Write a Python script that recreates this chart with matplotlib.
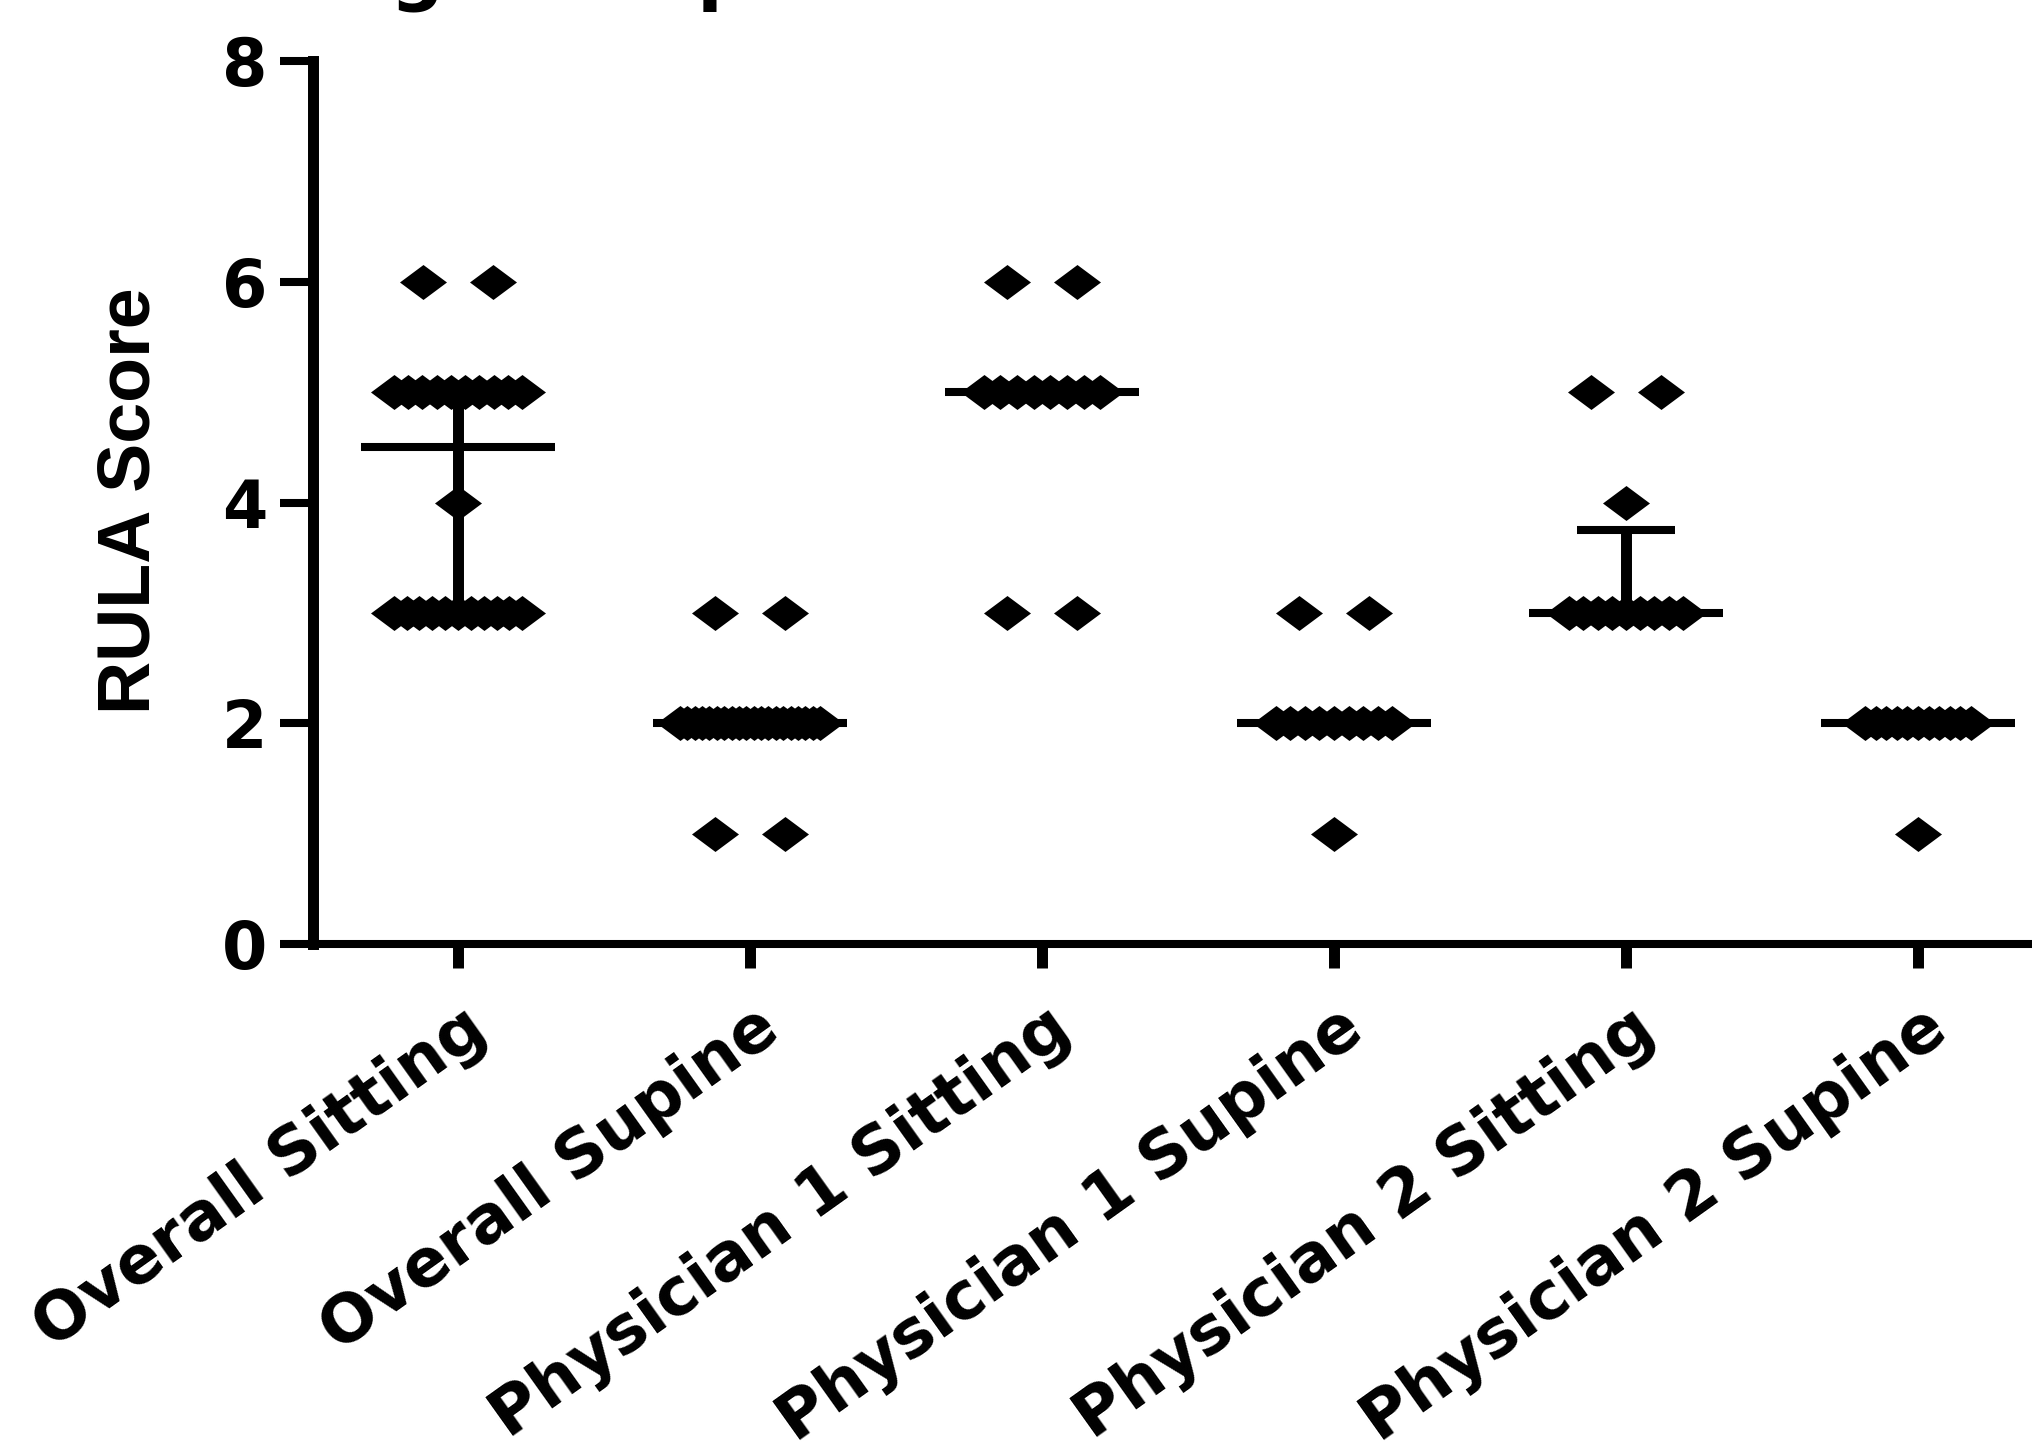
import numpy as np
import matplotlib
matplotlib.use("Agg")
import matplotlib.pyplot as plt
from matplotlib.path import Path
from matplotlib.transforms import ScaledTranslation

# ---------------- data ----------------
categories = ["Overall Sitting", "Overall Supine", "Physician 1 Sitting",
              "Physician 1 Supine", "Physician 2 Sitting", "Physician 2 Supine"]

overall_sitting = [6, 6, 5, 5, 5, 5, 5, 5, 5, 5, 5, 5, 4,
                   3, 3, 3, 3, 3, 3, 3, 3, 3, 3, 3]
overall_supine = [3, 3, 2, 2, 2, 2, 2, 2, 2, 2, 2, 2,
                  2, 2, 2, 2, 2, 2, 2, 2, 2, 2, 1, 1]
physician1_sitting = [6, 6, 5, 5, 5, 5, 5, 5, 5, 5, 3, 3]
physician1_supine = [3, 3, 2, 2, 2, 2, 2, 2, 2, 2, 2, 1]
physician2_sitting = [5, 5, 4, 3, 3, 3, 3, 3, 3, 3, 3, 3]
physician2_supine = [2, 2, 2, 2, 2, 2, 2, 2, 2, 2, 2, 1]

groups = [overall_sitting, overall_supine, physician1_sitting,
          physician1_supine, physician2_sitting, physician2_supine]

y_ticks = [0, 2, 4, 6, 8]
y_label = "RULA Score"
title = "Sitting vs Supine"

# ---------------- style / layout ----------------
W, H, DPI = 2033, 1454, 100
fig = plt.figure(figsize=(W / DPI, H / DPI), dpi=DPI)
fig.patch.set_facecolor("white")

ax_left_px, ax_top_px, ax_bottom_px = 313, 61, 944
ax = fig.add_axes([ax_left_px / W, 1 - ax_bottom_px / H,
                   (W - ax_left_px) / W, (ax_bottom_px - ax_top_px) / H])
ax.set_facecolor("white")

cat_x0_px, cat_dx_px = 458, 292
ax.set_xlim((ax_left_px - cat_x0_px) / cat_dx_px, (W - cat_x0_px) / cat_dx_px)
ax.set_ylim(0, 8)

LW_V = 7.9   # vertical strokes (pt)
LW_H = 5.8   # horizontal strokes (pt)

for s in ["top", "right"]:
    ax.spines[s].set_visible(False)
ax.spines["left"].set_linewidth(LW_V)
ax.spines["bottom"].set_linewidth(LW_H)
ax.spines["left"].set_capstyle("projecting")
ax.spines["bottom"].set_capstyle("butt")

# diamond marker, wider than tall
diamond = Path([(-0.5, 0), (0, 0.372), (0.5, 0), (0, -0.372), (-0.5, 0)],
               [Path.MOVETO, Path.LINETO, Path.LINETO, Path.LINETO, Path.CLOSEPOLY])
ms = 47 * 72 / DPI

pair_off = 0.12            # half spacing for two points in a row
max_spread = [0.44, 0.48, 0.40, 0.40, 0.39, 0.36]
med_half = 0.332
cap_half = 0.168

for gi, vals in enumerate(groups):
    vals = np.asarray(vals, dtype=float)
    xs, ys = [], []
    for v in sorted(set(vals), reverse=True):
        k = int(np.sum(vals == v))
        if k == 1:
            offs = [0.0]
        elif k == 2:
            offs = [-pair_off, pair_off]
        else:
            offs = list(np.linspace(-max_spread[gi] / 2, max_spread[gi] / 2, k))
        xs += [gi + o for o in offs]
        ys += [v] * k
    ax.plot(xs, ys, linestyle="none", marker=diamond, markersize=ms,
            color="black", markeredgewidth=0, zorder=3, clip_on=False)

    q1, med, q3 = np.percentile(vals, [25, 50, 75], method="weibull")
    ax.plot([gi - med_half, gi + med_half], [med, med], color="black",
            lw=LW_H, solid_capstyle="butt", zorder=4)
    if q3 > q1:
        ax.plot([gi, gi], [q1, q3], color="black", lw=LW_V,
                solid_capstyle="butt", zorder=4)
        for q in (q1, q3):
            ax.plot([gi - cap_half, gi + cap_half], [q, q], color="black",
                    lw=LW_H, solid_capstyle="butt", zorder=4)

# ticks
ax.set_yticks(y_ticks)
ax.set_yticklabels([str(t) for t in y_ticks])
ax.tick_params(axis="y", direction="out", length=24, width=LW_H, pad=9,
               colors="black")
for lab in ax.get_yticklabels():
    lab.set_fontfamily("DejaVu Sans")
    lab.set_fontweight("bold")
    lab.set_fontsize(47)

ax.set_xticks(range(len(categories)))
ax.set_xticklabels(categories, rotation=35.5, ha="right", va="center",
                   rotation_mode="anchor")
ax.tick_params(axis="x", direction="out", length=17, width=LW_V, pad=39,
               colors="black")
shift = ScaledTranslation(22 / DPI, 0, fig.dpi_scale_trans)
for lab in ax.get_xticklabels():
    lab.set_fontfamily("DejaVu Sans")
    lab.set_fontweight("bold")
    lab.set_fontsize(47.5)
    lab.set_transform(lab.get_transform() + shift)

# y label
fig.text(131 / W, 1 - 501 / H, y_label, rotation=90, ha="center", va="center",
         fontsize=53, fontweight="bold", family=["Liberation Sans", "DejaVu Sans"])

# title (cut off at top of the image)
fig.text(160 / W, 1 + 5 / H, title, ha="left", va="baseline",
         fontsize=54, fontweight="bold", family="DejaVu Sans")

fig.savefig("out.png", dpi=DPI, facecolor="white")
